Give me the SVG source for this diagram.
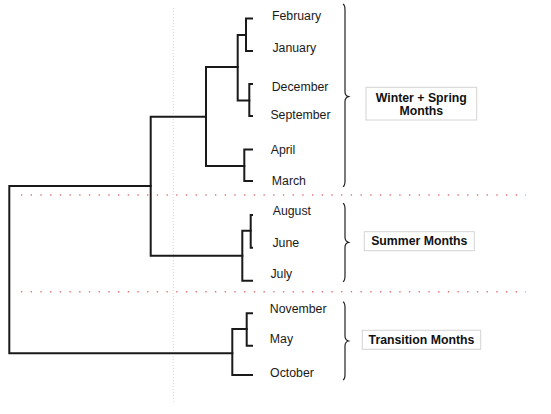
<svg xmlns="http://www.w3.org/2000/svg" width="551" height="414" viewBox="0 0 551 414">
<style>
.bg{fill:#fff}
.tree path{fill:none;stroke:#1a1a1a;stroke-width:2;stroke-linecap:square}
.lbl{font-family:"Liberation Sans",Arial,sans-serif;font-size:12.3px;fill:#1a1a1a}
.brace{fill:none;stroke:#222;stroke-width:1.2}
.box{fill:#fff;stroke:#d4d4d4;stroke-width:1}
.bt{font-family:"Liberation Sans",Arial,sans-serif;font-size:12.3px;font-weight:bold;fill:#111;text-anchor:middle}
.sep{stroke:#e87070;stroke-width:1.5;stroke-dasharray:1.3 8.4;fill:none}
.vref{stroke:#f6c8d6;stroke-width:1;stroke-dasharray:1 2;fill:none}
</style>
<rect class="bg" x="0" y="0" width="551" height="414"/>
<g id="guides">
<line class="vref" x1="173.3" y1="8" x2="173.3" y2="402"/>
<line class="sep" x1="21" y1="195" x2="526" y2="195"/>
<line class="sep" x1="21" y1="291.7" x2="526" y2="291.7"/>
</g>
<g id="connectors" class="tree">
<path d="M252,18.5 H246 V51 H252"/>
<path d="M252,84 H249.3 V116 H252"/>
<path d="M246,35 H237.7 V100.5 H249.3"/>
<path d="M252,149.5 H244.3 V181 H252"/>
<path d="M237.7,67 H206 V166 H244.3"/>
<path d="M252,215 H250.7 V247.7 H252"/>
<path d="M250.7,230.7 H242.3 V280.7 H252"/>
<path d="M206,116.7 H150.7 V255.7 H242.3"/>
<path d="M252,313.3 H246.7 V345.7 H252"/>
<path d="M246.7,329 H232.3 V375 H252"/>
<path d="M150.7,186 H9.3 V353.3 H232.3"/>
</g>
<g id="leaves">
<text id="february" class="lbl" x="272" y="20">February</text>
<text id="january" class="lbl" x="272.4" y="51.5">January</text>
<text id="december" class="lbl" x="271.7" y="91">December</text>
<text id="september" class="lbl" x="270.4" y="118.5">September</text>
<text id="april" class="lbl" x="270.7" y="153.5">April</text>
<text id="march" class="lbl" x="271.8" y="185.4">March</text>
<text id="august" class="lbl" x="272.7" y="215">August</text>
<text id="june" class="lbl" x="272.4" y="246.5">June</text>
<text id="july" class="lbl" x="270.4" y="277.5">July</text>
<text id="november" class="lbl" x="269.8" y="313.4">November</text>
<text id="may" class="lbl" x="269.8" y="342.8">May</text>
<text id="october" class="lbl" x="270.1" y="376.7">October</text>
</g>
<g id="brace-winter">
<path class="brace" d="M343,4 Q345,5 345,10 L345,91.7 Q345,95.7 348.5,96.7 Q345,97.7 345,101.7 L345,181 Q345,185.7 343,186.7"/>
</g>
<g id="brace-summer">
<path class="brace" d="M343,203.3 Q345,204.3 345,209 L345,237.3 Q345,241.3 348.5,242.3 Q345,243.3 345,247.3 L345,276 Q345,280.7 343,281.7"/>
</g>
<g id="brace-transition">
<path class="brace" d="M343,301.7 Q345,302.7 345,307.5 L345,336 Q345,340 348.5,341 Q345,342 345,346 L345,374.5 Q345,379 343,380"/>
</g>
<g id="group-winter">
<rect class="box" x="366" y="87.3" width="110.7" height="32.7"/>
<text class="bt" x="421.3" y="102">Winter + Spring</text>
<text class="bt" x="421.3" y="115.4">Months</text>
</g>
<g id="group-summer">
<rect class="box" x="364.3" y="231.7" width="110" height="19"/>
<text class="bt" x="419.3" y="245.4">Summer Months</text>
</g>
<g id="group-transition">
<rect class="box" x="362.3" y="330.3" width="118.4" height="19"/>
<text class="bt" x="421.5" y="344.4">Transition Months</text>
</g>
</svg>
